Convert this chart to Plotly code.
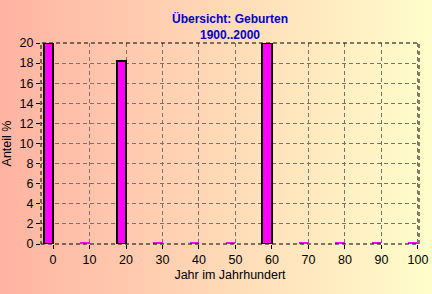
import plotly.graph_objects as go

# Data
years = [0, 10, 20, 30, 40, 50, 60, 70, 80, 90, 100]
shares = [20, 0.15, 18.2, 0.15, 0.15, 0.15, 20, 0.15, 0.15, 0.15, 0.15]
x_ticks = [0, 10, 20, 30, 40, 50, 60, 70, 80, 90, 100]
y_ticks = [0, 2, 4, 6, 8, 10, 12, 14, 16, 18, 20]
title_lines = ["Übersicht: Geburten", "1900..2000"]

W, H = 432, 294
ML, MR, MT, MB = 41, 13, 43, 50
pw, ph = W - ML - MR, H - MT - MB

line_widths = [2 if v >= 1 else 0 for v in shares]

fig = go.Figure()
fig.add_trace(go.Bar(
    x=years, y=shares, width=2.6, offset=-2.6,
    marker=dict(color="#ff00ff", line=dict(color="black", width=line_widths)),
    showlegend=False,
))

# gradient background strips
left = (255, 180, 163)
right = (255, 253, 202)
N = 54
shapes = []
for i in range(N):
    t = i / (N - 1)
    c = tuple(round(left[k] + (right[k] - left[k]) * t) for k in range(3))
    px0 = W * i / N
    px1 = W * (i + 1) / N + 1
    shapes.append(dict(
        type="rect", xref="paper", yref="paper",
        x0=(px0 - ML) / pw, x1=(px1 - ML) / pw,
        y0=-(MB + 2) / ph, y1=(ph + MT + 2) / ph,
        fillcolor="rgb(%d,%d,%d)" % c, line=dict(width=0), layer="below",
    ))
shapes.append(dict(type="rect", xref="paper", yref="paper", x0=0, x1=1, y0=0, y1=1,
                   line=dict(color="black", width=1, dash="4px,3px"), layer="above"))

font = "Liberation Sans, Arial, sans-serif"
fig.update_layout(
    width=W, height=H,
    margin=dict(l=ML, r=MR, t=MT, b=MB, pad=0, autoexpand=False),
    paper_bgcolor="rgb(255,180,163)",
    plot_bgcolor="rgba(0,0,0,0)",
    shapes=shapes,
    bargap=0,
    title=dict(text="<b>" + "<br>".join(title_lines) + "</b>",
               x=0.5, xref="paper", y=1 - 23 / H, yref="container", yanchor="middle",
               font=dict(family=font, size=12, color="#0000c8")),
    font=dict(family=font, size=12.5, color="black"),
)
fig.update_xaxes(
    range=[-3.3, 100.3], tickvals=x_ticks, ticks="outside", ticklen=4, tickcolor="black",
    showgrid=True, gridcolor="#7d7068", griddash="4px,3px", gridwidth=1,
    zeroline=False, showline=False, automargin=False,
    title=dict(text="Jahr im Jahrhundert", font=dict(size=12.5), standoff=4),
    tickfont=dict(size=12.5),
)
fig.update_yaxes(
    range=[0, 20], tickvals=y_ticks, ticks="outside", ticklen=4, tickcolor="black",
    showgrid=True, gridcolor="#7d7068", griddash="4px,3px", gridwidth=1,
    zeroline=False, showline=False, automargin=False,
    title=dict(text="Anteil %", font=dict(size=12.5), standoff=6),
    tickfont=dict(size=12.5),
)

fig.write_html("out.html")
